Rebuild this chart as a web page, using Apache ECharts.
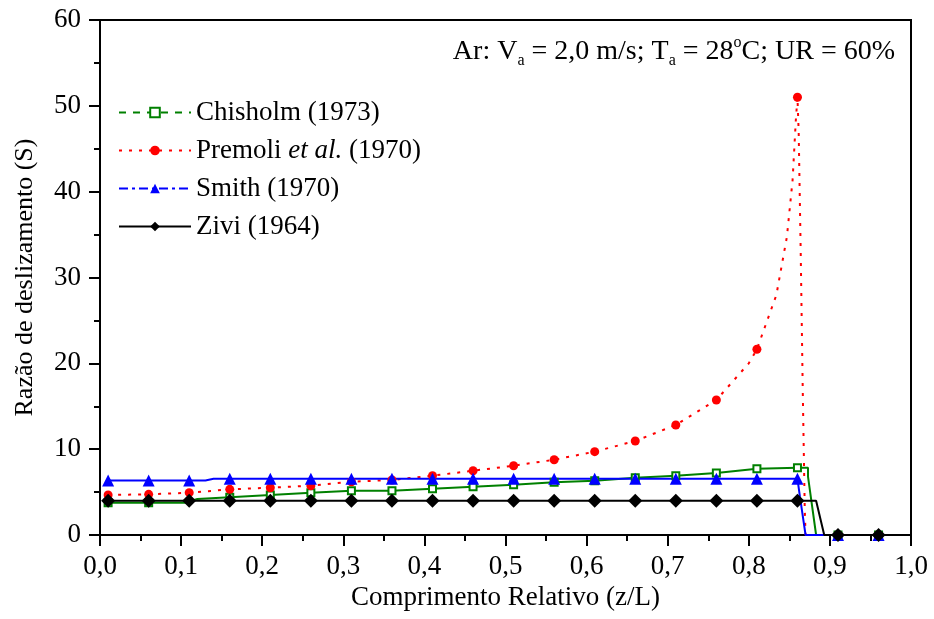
<!DOCTYPE html>
<html>
<head>
<meta charset="utf-8">
<script src="https://cdn.jsdelivr.net/npm/echarts@6/dist/echarts.min.js"></script>
<style>
  html, body { margin: 0; padding: 0; background: #fff; }
  #chart { width: 934px; height: 619px; }
</style>
</head>
<body>
<div id="chart"></div>
<script>
// posições dos marcadores (z/L)
var markerX = [0.01, 0.06, 0.11, 0.16, 0.21, 0.26, 0.31, 0.36, 0.41, 0.46,
               0.51, 0.56, 0.61, 0.66, 0.71, 0.76, 0.81, 0.86, 0.91, 0.96];

// Chisholm (1973)
var chisX = [0.01, 0.06, 0.105, 0.12, 0.16, 0.21, 0.26, 0.31, 0.36, 0.41, 0.46, 0.51, 0.56,
             0.61, 0.66, 0.71, 0.76, 0.81, 0.86, 0.873, 0.873, 0.883, 0.91, 0.96, 1.0];
var chisY = [3.76, 3.76, 3.76, 4.19, 4.39, 4.66, 4.93, 5.16, 5.16, 5.39, 5.63, 5.86, 6.14,
             6.33, 6.68, 6.91, 7.22, 7.72, 7.84, 7.84, 6.8, 0, 0, 0, 0];

// Premoli et al. (1970)
var premX = [0.01, 0.06, 0.11, 0.16, 0.21, 0.26, 0.31, 0.36, 0.41, 0.46, 0.51, 0.56, 0.61,
             0.66, 0.71, 0.76, 0.80, 0.81, 0.834, 0.847, 0.854, 0.858, 0.86, 0.8615, 0.864,
             0.8665, 0.869, 0.870, 0.91, 0.96, 1.0];
var premY = [4.66, 4.74, 4.93, 5.32, 5.51, 5.74, 6.21, 6.41, 6.91, 7.49, 8.07, 8.77, 9.71,
             10.95, 12.82, 15.73, 20.0, 21.64, 27.96, 34.75, 41.36, 48.35, 51.0, 47, 33,
             17, 3, 0, 0, 0, 0];

// Smith (1970)
var smithX = [0.01, 0.06, 0.11, 0.13, 0.14, 0.16, 0.21, 0.26, 0.31, 0.36, 0.41, 0.46, 0.51,
              0.56, 0.61, 0.66, 0.71, 0.76, 0.81, 0.86, 0.862, 0.863, 0.870, 0.91, 0.96, 1.0];
var smithY = [6.35, 6.35, 6.35, 6.35, 6.55, 6.55, 6.55, 6.55, 6.55, 6.55, 6.55, 6.55, 6.55,
              6.55, 6.55, 6.55, 6.55, 6.55, 6.55, 6.55, 6.55, 4.5, 0, 0, 0, 0];

// Zivi (1964)
var ziviX = [0.01, 0.06, 0.11, 0.16, 0.21, 0.26, 0.31, 0.36, 0.41, 0.46, 0.51, 0.56, 0.61,
             0.66, 0.71, 0.76, 0.81, 0.86, 0.883, 0.893, 0.91, 0.96, 1.0];
var ziviY = [4.0, 4.0, 4.0, 4.0, 4.0, 4.0, 4.0, 4.0, 4.0, 4.0, 4.0, 4.0, 4.0,
             4.0, 4.0, 4.0, 4.0, 4.0, 4.0, 0, 0, 0, 0];

var FONT = '"Liberation Serif", "Times New Roman", serif';

function isMarker(x) {
    for (var i = 0; i < markerX.length; i++) {
        if (Math.abs(markerX[i] - x) < 1e-6) return true;
    }
    return false;
}

// só mostra o símbolo nas posições dos marcadores
function buildData(xs, ys) {
    var out = [];
    for (var i = 0; i < xs.length; i++) {
        var item = { value: [xs[i], ys[i]] };
        if (!isMarker(xs[i]) || (i > 0 && xs[i - 1] === xs[i])) item.symbol = 'none';
        out.push(item);
    }
    return out;
}

var myChart = echarts.init(document.getElementById('chart'), null, { renderer: 'canvas' });

var option = {
    animation: false,
    backgroundColor: '#fff',
    grid: {
        left: 100, right: 23, top: 20, bottom: 84,
        show: true, borderColor: '#000', borderWidth: 2, backgroundColor: 'transparent'
    },
    legend: {
        orient: 'vertical',
        left: 113,
        top: 94,
        itemWidth: 72,
        itemHeight: 12,
        itemGap: 11,
        textStyle: {
            fontFamily: FONT, fontSize: 27, color: '#000', lineHeight: 27,
            rich: {
                n: { fontFamily: FONT, fontSize: 27, color: '#000' },
                i: { fontFamily: FONT, fontSize: 27, color: '#000', fontStyle: 'italic' }
            }
        },
        formatter: function(name) {
            if (name.indexOf('Premoli') === 0) return '{n|Premoli }{i|et al.}{n| (1970)}';
            return '{n|' + name + '}';
        },
        data: [
            { name: 'Chisholm (1973)', lineStyle: { type: [7, 7] } },
            { name: 'Premoli et al. (1970)' },
            { name: 'Smith (1970)', lineStyle: { type: [9, 4, 3, 4] } },
            { name: 'Zivi (1964)' }
        ]
    },
    graphic: [{
        type: 'text',
        right: 39,
        top: 35,
        style: {
            text: '{n|Ar: V}{s|a}{n| = 2,0 m/s; T}{s|a}{n| = 28}{p|o}{n|C; UR = 60%}',
            rich: {
                n: { fontFamily: FONT, fontSize: 28, lineHeight: 34, verticalAlign: 'middle', fill: '#000' },
                s: { fontFamily: FONT, fontSize: 16, lineHeight: 15, verticalAlign: 'bottom', fill: '#000' },
                p: { fontFamily: FONT, fontSize: 16, lineHeight: 15, verticalAlign: 'top', fill: '#000' }
            }
        }
    }],
    xAxis: {
        type: 'value',
        min: 0, max: 1, interval: 0.1,
        name: 'Comprimento Relativo (z/L)',
        nameLocation: 'middle',
        nameGap: 47,
        nameTextStyle: { fontFamily: FONT, fontSize: 27, color: '#000' },
        axisLine: { onZero: false, lineStyle: { color: '#000', width: 2 } },
        axisTick: { length: 11, lineStyle: { width: 2 } },
        minorTick: { show: true, splitNumber: 2, length: 6, lineStyle: { color: '#000', width: 2 } },
        splitLine: { show: false },
        axisLabel: {
            margin: 18, fontFamily: FONT, fontSize: 27, color: '#000',
            formatter: function(v) { return v.toFixed(1).replace('.', ','); }
        }
    },
    yAxis: {
        type: 'value',
        min: 0, max: 60, interval: 10,
        name: 'Razão de deslizamento (S)',
        nameLocation: 'middle',
        nameGap: 62,
        nameTextStyle: { fontFamily: FONT, fontSize: 26, color: '#000' },
        axisLine: { show: true, lineStyle: { color: '#000', width: 2 } },
        axisTick: { show: true, length: 11, lineStyle: { width: 2 } },
        minorTick: { show: true, splitNumber: 2, length: 6, lineStyle: { color: '#000', width: 2 } },
        splitLine: { show: false },
        axisLabel: { margin: 19, fontFamily: FONT, fontSize: 27, color: '#000' }
    },
    series: [{
        name: 'Chisholm (1973)',
        type: 'line',
        clip: false,
        showAllSymbol: true,
        symbol: 'emptyRect',
        symbolSize: 7,
        color: '#008000',
        itemStyle: { color: '#008000', borderWidth: 2 },
        lineStyle: { color: '#008000', width: 2 },
        data: buildData(chisX, chisY)
    }, {
        name: 'Premoli et al. (1970)',
        type: 'line',
        clip: false,
        showAllSymbol: true,
        symbol: 'circle',
        symbolSize: 9,
        color: '#ff0000',
        itemStyle: { color: '#ff0000' },
        lineStyle: { color: '#ff0000', width: 2, type: [3, 7] },
        data: buildData(premX, premY)
    }, {
        name: 'Smith (1970)',
        type: 'line',
        clip: false,
        showAllSymbol: true,
        symbol: 'triangle',
        symbolSize: 12,
        color: '#0000ff',
        itemStyle: { color: '#0000ff' },
        lineStyle: { color: '#0000ff', width: 2 },
        data: buildData(smithX, smithY)
    }, {
        name: 'Zivi (1964)',
        type: 'line',
        clip: false,
        showAllSymbol: true,
        symbol: 'diamond',
        symbolSize: 14,
        color: '#000000',
        itemStyle: { color: '#000000' },
        lineStyle: { color: '#000000', width: 2 },
        data: buildData(ziviX, ziviY)
    }]
};

myChart.setOption(option);
</script>
</body>
</html>
